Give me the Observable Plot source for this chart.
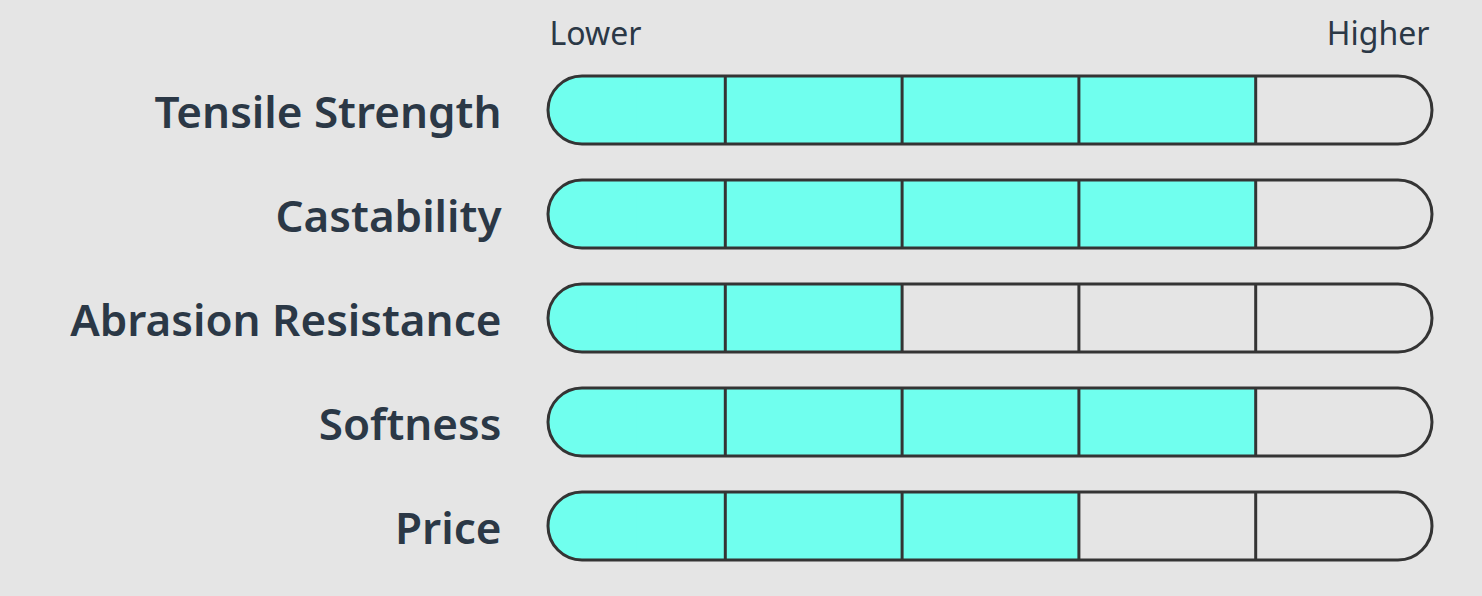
<!DOCTYPE html>
<html>
<head>
<meta charset="utf-8">
<script src="https://cdn.jsdelivr.net/npm/d3@7"></script>
<script src="https://cdn.jsdelivr.net/npm/@observablehq/plot@0.6"></script>
<style>
  html, body { margin: 0; padding: 0; background: #e5e5e5; }
  #chart svg { display: block; background: #e5e5e5; }
</style>
</head>
<body>
<div id="chart"></div>
<script>
const categories = ["Tensile Strength", "Castability", "Abrasion Resistance", "Softness", "Price"];
const values = [4, 4, 2, 4, 3];
const levels = 5;
const scaleLabels = ["Lower", "Higher"];

const rows = categories.map((name, i) => ({name, value: values[i]}));
const dividers = [];
for (const name of categories) for (let k = 1; k < levels; k++) dividers.push({name, x: k});

const FILL = "#70ffee";
const STROKE = "#343434";
const TEXT = "#2b3846";
const FONT = "'Noto Sans', 'Open Sans', sans-serif";

const chart = Plot.plot({
  width: 1482,
  height: 596,
  marginLeft: 548,
  marginRight: 50,
  marginTop: 40,
  marginBottom: 0,
  style: {background: "#e5e5e5", fontFamily: FONT},
  x: {domain: [0, levels], axis: null},
  y: {domain: categories, padding: 0.346, axis: null},
  marks: [
    Plot.barX(rows, {x1: () => 0, x2: () => 1, y: "name", rx: 34, fill: FILL}),
    Plot.barX(rows, {x1: () => 0.5, x2: "value", y: "name", fill: FILL}),
    Plot.tickX(dividers, {x: "x", y: "name", stroke: STROKE, strokeWidth: 3}),
    Plot.barX(rows, {x1: () => 0, x2: () => levels, y: "name", rx: 34, fill: "none", stroke: STROKE, strokeWidth: 3}),
    Plot.text(rows, {y: "name", text: "name", frameAnchor: "left", textAnchor: "end", dx: -47, dy: 3.5,
      fontSize: 44, fontWeight: 600, fill: TEXT}),
    Plot.text([scaleLabels[0]], {x: () => 0, text: d => d, frameAnchor: "top", textAnchor: "start",
      dx: 1, dy: -18, fontSize: 32, fill: TEXT}),
    Plot.text([scaleLabels[1]], {x: () => levels, text: d => d, frameAnchor: "top", textAnchor: "end",
      dx: -3, dy: -18, fontSize: 32, fill: TEXT})
  ]
});
document.getElementById("chart").appendChild(chart);
</script>
</body>
</html>
